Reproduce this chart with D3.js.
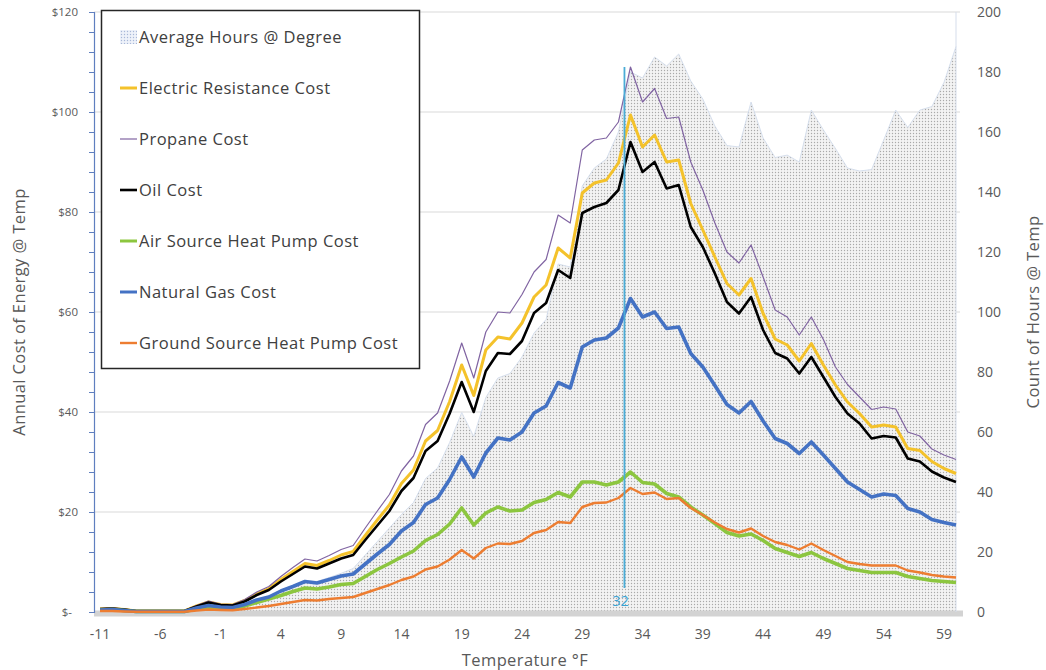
<!DOCTYPE html>
<html><head><meta charset="utf-8">
<script src="https://cdn.jsdelivr.net/npm/d3@7"></script>
<style>
body{margin:0;background:#fff}
svg{display:block}
text{font-family:"Open Sans",sans-serif}
</style>
</head><body>
<svg id="c" width="1046" height="670"></svg>
<script>
// ---- data ----
const temps = [-11,-10,-9,-8,-7,-6,-5,-4,-3,-2,-1,0,1,2,3,4,5,6,7,8,9,10,11,12,13,14,15,16,17,18,19,20,21,22,23,24,25,26,27,28,29,30,31,32,33,34,35,36,37,38,39,40,41,42,43,44,45,46,47,48,49,50,51,52,53,54,55,56,57,58,59,60];
const xTickLabels = [-11,-6,-1,4,9,14,19,24,29,34,39,44,49,54,59];
const leftTicks = [0,20,40,60,80,100,120];
const rightTicks = [0,20,40,60,80,100,120,140,160,180,200];
const markerTemp = 32;

const hours = [0.5,0.6,0.4,0.2,0.2,0.2,0.2,0.2,
  1.0,1.9,1.4,1.3,2.2,3.6,4.7,6.8,8.6,10.4,10.2,11.5,12.9,
  14.5,19,23.5,28,32.5,36.5,44.5,48,56.5,66.5,
  58.5,71.5,78,79.5,85,93,97.5,116,115,142,
  148,151,160,180,178,185,182,186,177,171,
  162,155.5,155,170,158,151.5,152.3,150,167.3,160.7,
  154.5,148,147,147.5,157.3,167.3,161.5,167.3,168.5,176.5,188.5];
const electric = [0.6,0.7,0.5,0.2,0.2,0.2,0.2,0.2,
  1.2,2.0,1.5,1.4,2.3,3.6,4.7,6.5,8.1,9.7,9.3,10.3,11.4,
  12.1,15.3,18.4,21.4,25.7,28.4,34.2,36.3,42.1,49.4,
  43.3,52.4,55.0,54.6,57.8,63.0,65.4,72.8,70.8,83.8,
  85.8,86.4,89.8,99.4,93.0,95.4,90.0,90.4,81.7,76.4,
  71.0,65.7,63.4,66.7,59.7,54.6,53.4,50.2,53.7,49.4,
  45.4,42.0,39.7,37.0,37.4,37.0,32.7,32.3,30.1,28.7,27.7];
const propane = [0.7,0.8,0.6,0.3,0.3,0.3,0.3,0.3,
  1.3,2.2,1.6,1.5,2.5,4.0,5.1,7.1,8.9,10.6,10.2,11.3,12.5,
  13.3,16.8,20.2,23.5,28.2,31.2,37.5,39.8,46.2,53.8,
  46.8,56.0,60.0,59.8,63.5,68.0,70.5,79.4,77.8,92.4,
  94.4,94.8,98.0,109.0,102.0,104.7,98.7,99.0,90.0,84.4,
  77.8,72.0,69.8,73.4,67.0,60.4,59.0,55.4,59.0,54.5,
  49.0,45.5,43.0,40.5,41.0,40.6,36.0,35.2,32.6,31.4,30.5];
const oil = [0.6,0.7,0.5,0.2,0.2,0.2,0.2,0.2,
  1.1,1.9,1.4,1.3,2.1,3.4,4.4,6.1,7.6,9.1,8.7,9.7,10.7,
  11.4,14.4,17.3,20.2,24.2,26.8,32.2,34.2,39.7,46.0,
  40.0,48.2,51.8,51.6,54.2,59.8,61.8,68.4,66.8,79.8,
  81.0,81.8,84.4,94.0,88.0,90.0,84.7,85.4,77.0,73.0,
  67.7,62.0,59.7,63.0,56.4,51.8,50.7,47.7,51.0,47.0,
  43.0,39.7,37.7,34.7,35.2,34.9,30.7,30.1,28.1,26.9,26.0];
const airSource = [0.4,0.5,0.3,0.1,0.1,0.1,0.1,0.1,
  0.6,1.0,0.8,0.7,1.2,1.9,2.6,3.3,4.1,4.8,4.6,5.0,5.5,
  5.7,7.1,8.5,9.7,11.0,12.2,14.3,15.5,17.6,20.8,
  17.4,19.8,21.0,20.2,20.4,21.9,22.5,23.9,23.0,26.0,
  26.0,25.4,26.0,28.0,25.9,25.6,23.7,23.0,21.0,19.4,
  17.7,15.9,15.2,15.6,14.3,12.7,11.9,11.1,11.9,10.7,
  9.7,8.7,8.3,7.9,7.9,7.9,7.1,6.7,6.3,6.1,5.9];
const naturalGas = [0.4,0.5,0.3,0.1,0.1,0.1,0.1,0.1,
  0.8,1.3,1.0,0.9,1.5,2.4,3.0,4.2,5.1,6.1,5.8,6.5,7.2,
  7.6,9.6,11.6,13.5,16.2,17.9,21.5,22.8,26.5,31.0,
  27.0,31.8,34.8,34.4,36.0,39.8,41.2,45.9,44.8,53.0,
  54.4,54.8,56.8,62.7,59.0,60.0,56.7,57.0,51.7,49.0,
  45.3,41.5,39.8,42.1,38.2,34.7,33.7,31.7,34.0,31.4,
  28.7,26.0,24.5,23.0,23.6,23.3,20.7,20.0,18.5,17.9,17.4];
const groundSource = [0.2,0.2,0.1,0.05,0.05,0.05,0.05,0.05,
  0.3,0.5,0.4,0.35,0.6,0.9,1.2,1.6,2.0,2.4,2.3,2.6,2.8,
  3.0,3.8,4.6,5.4,6.4,7.1,8.5,9.1,10.5,12.4,
  10.7,12.8,13.7,13.6,14.2,15.8,16.4,18.0,17.8,21.0,
  21.8,21.9,22.8,24.8,23.6,23.9,22.6,22.8,20.8,19.4,
  17.9,16.6,15.9,16.7,15.2,14.0,13.4,12.5,13.7,12.4,
  11.2,10.0,9.6,9.3,9.3,9.3,8.3,7.9,7.4,7.1,6.9];

const seriesNames = ["Electric Resistance Cost","Propane Cost","Oil Cost","Air Source Heat Pump Cost","Natural Gas Cost","Ground Source Heat Pump Cost"];
const seriesValues = [electric, propane, oil, airSource, naturalGas, groundSource];
const areaName = "Average Hours @ Degree";

// ---- styles ----
const seriesColors = ["#f4c22b","#8064a2","#000000","#8cc63f","#4472c4","#ed7d31"];
const seriesWidths = [3, 1.2, 2.6, 3.6, 3.6, 2.4];
const drawOrder = [0,1,2,3,4,5];

const svg = d3.select("#c");
const L = 94, R = 956, T = 12, B = 612;
const x = d3.scaleLinear().domain([temps[0]-0.5, temps[temps.length-1]]).range([L, R]);
const yL = d3.scaleLinear().domain([0,120]).range([B, T]);
const yR = d3.scaleLinear().domain([0,200]).range([B, T]);

// pattern
const defs = svg.append("defs");
const pat = defs.append("pattern").attr("id","dots").attr("patternUnits","userSpaceOnUse")
  .attr("width",3).attr("height",3);
pat.append("rect").attr("width",3).attr("height",3).attr("fill","#f3f3f3");
pat.append("circle").attr("cx",1.5).attr("cy",1.5).attr("r",0.7).attr("fill","#a9a9a9");
const pat2 = defs.append("pattern").attr("id","dotsLeg").attr("patternUnits","userSpaceOnUse")
  .attr("width",3).attr("height",3);
pat2.append("rect").attr("width",3).attr("height",3).attr("fill","#eef2fa");
pat2.append("circle").attr("cx",1.5).attr("cy",1.5).attr("r",0.7).attr("fill","#a8b8d8");

// gridlines
svg.append("g").selectAll("line").data(leftTicks.filter(d=>d>0)).join("line")
  .attr("x1",L).attr("x2",R+4).attr("y1",d=>yL(d)).attr("y2",d=>yL(d))
  .attr("stroke","#d9d9d9").attr("stroke-width",1);

// area
svg.append("path").datum(temps.map((t,i)=>[t,hours[i]]))
  .attr("d", d3.area().x(d=>x(d[0])).y0(yR(0)).y1(d=>yR(d[1])))
  .attr("fill","url(#dots)");
svg.append("path").datum(temps.map((t,i)=>[t,hours[i]]))
  .attr("d", d3.line().x(d=>x(d[0])).y(d=>yR(d[1])))
  .attr("fill","none").attr("stroke","#d3dcec").attr("stroke-width",0.9);

// bottom band (x axis)
svg.append("line").attr("x1",L).attr("x2",R+7).attr("y1",B+1.5).attr("y2",B+1.5)
  .attr("stroke","#d3d3d3").attr("stroke-width",6);

// right axis line
svg.append("line").attr("x1",R).attr("x2",R).attr("y1",T).attr("y2",B)
  .attr("stroke","#d5ddeb").attr("stroke-width",1);

// lines
const lineGen = d3.line().x(d=>x(d[0])).y(d=>yL(d[1]));
drawOrder.forEach(k=>{
  svg.append("path").datum(temps.map((t,i)=>[t,seriesValues[k][i]]))
    .attr("d", lineGen).attr("fill","none")
    .attr("stroke",seriesColors[k]).attr("stroke-width",seriesWidths[k])
    .attr("stroke-linejoin","round");
});

// marker line at 32
const mIdx = temps.indexOf(markerTemp+1);
const mx = x(markerTemp+0.5);
svg.append("line").attr("x1",mx).attr("x2",mx)
  .attr("y1",yL(propane[mIdx])).attr("y2",yL(0)-24)
  .attr("stroke","#4bacd6").attr("stroke-width",1.8);
svg.append("text").attr("x",mx-4).attr("y",yL(0)-6).attr("text-anchor","middle")
  .attr("font-size",14.5).attr("fill","#3aa3d3").text(markerTemp);

// left axis
const gl = svg.append("g").attr("transform",`translate(${L},0)`)
  .call(d3.axisLeft(yL).tickValues(d3.range(0,121,4)).tickSize(5).tickPadding(11)
    .tickFormat(d=> d%20 ? "" : (d===0 ? "$-  " : "$" + d)));
gl.select(".domain").attr("stroke","#5f7fbf").attr("stroke-width",1.2);
gl.selectAll(".tick line").attr("stroke","#5f7fbf");
gl.selectAll(".tick text").attr("font-size",11.5).attr("fill","#595959")
  .attr("font-family","Open Sans, sans-serif").style("white-space","pre");

// right axis labels
svg.append("g").selectAll("text").data(rightTicks).join("text")
  .attr("x",R+21).attr("y",d=>yR(d)).attr("dy","0.35em")
  .attr("font-size",14).attr("fill","#595959").text(d=>d);

// x labels
svg.append("g").selectAll("text").data(xTickLabels).join("text")
  .attr("x",d=>x(d)).attr("y",B+27).attr("text-anchor","middle")
  .attr("font-size",14).attr("fill","#595959").text(d=>d);

// axis titles
const titleStyle = s => s.attr("font-size",16.5).attr("fill","#595959").attr("letter-spacing",0.4);
svg.append("text").attr("x",(L+R)/2).attr("y",666).attr("text-anchor","middle")
  .call(titleStyle).text("Temperature °F");
svg.append("text").attr("transform",`translate(25,${(T+B)/2}) rotate(-90)`)
  .attr("text-anchor","middle").call(titleStyle)
  .text("Annual Cost of Energy @ Temp");
svg.append("text").attr("transform",`translate(1039,${(T+B)/2}) rotate(-90)`)
  .attr("text-anchor","middle").call(titleStyle)
  .text("Count of Hours @ Temp");

// legend
const lg = svg.append("g");
lg.append("rect").attr("x",101.5).attr("y",10.5).attr("width",318).attr("height",358)
  .attr("fill","#fff").attr("stroke","#262626").attr("stroke-width",1.5);
const legItems = [{name:areaName, area:true}].concat(seriesNames.map((n,k)=>({name:n,k:k})));
legItems.forEach((it,i)=>{
  const cy = 37 + i*51;
  if (it.area) {
    lg.append("rect").attr("x",120).attr("y",cy-7).attr("width",17).attr("height",14)
      .attr("fill","url(#dotsLeg)");
  } else {
    lg.append("line").attr("x1",120).attr("x2",137).attr("y1",cy).attr("y2",cy)
      .attr("stroke",seriesColors[it.k]).attr("stroke-width",Math.min(seriesWidths[it.k],3));
  }
  lg.append("text").attr("x",139).attr("y",cy).attr("dy","0.35em")
    .attr("font-size",16.5).attr("letter-spacing",0.5).attr("fill","#404040").text(it.name);
});
</script>
</body></html>
